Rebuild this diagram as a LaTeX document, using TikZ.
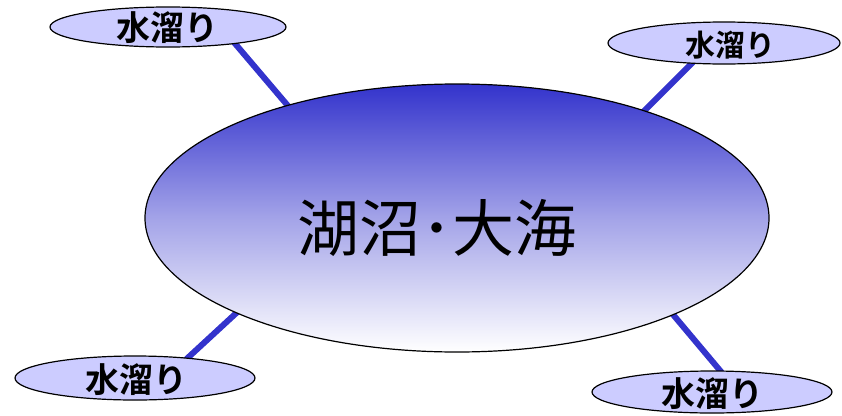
\documentclass[tikz,border=0pt]{standalone}
\usepackage{fontspec}
\newfontfamily\jpb{Noto Sans CJK JP Bold}
\newfontfamily\jp{Noto Sans CJK JP}
\usetikzlibrary{shapes.geometric}
\definecolor{lineblue}{HTML}{3333CC}
\definecolor{pool}{HTML}{CCCCFF}
\tikzset{
  small/.style={draw=black, line width=1.2pt, fill=pool, ellipse, inner sep=0pt},
  link/.style={draw=lineblue, line width=6pt},
  lbl/.style={font=\jpb\fontsize{34}{34}\selectfont, inner sep=0pt}
}
\begin{document}
\begin{tikzpicture}[x=1pt,y=-1pt]
\useasboundingbox (0,0) rectangle (842,415);
% connector end points
\coordinate (a1) at (232,40); \coordinate (a2) at (300,120);
\coordinate (b1) at (700,55); \coordinate (b2) at (630,125);
\coordinate (c1) at (245,305); \coordinate (c2) at (180,365);
\coordinate (d1) at (665,305); \coordinate (d2) at (728,380);
\draw[link] (a1) -- (a2);
\draw[link] (b1) -- (b2);
\draw[link] (c1) -- (c2);
\draw[link] (d1) -- (d2);
% main ellipse
\draw[line width=1.2pt, top color=lineblue, bottom color=white, middle color=lineblue!45!white]
  (457,218) ellipse [x radius=312, y radius=134];
\node[font=\jp\fontsize{62}{62}\selectfont, inner sep=0pt] (main) at (437,228) {湖沼･大海};
% small ellipses
\draw[small] (168,27) ellipse [x radius=118, y radius=20];
\draw[small] (724,43) ellipse [x radius=116, y radius=21];
\draw[small] (135,378) ellipse [x radius=120, y radius=22];
\draw[small] (712,392) ellipse [x radius=120, y radius=21];
\node[lbl] (p1) at (167,28) {水溜り};
\node[lbl, font=\jpb\fontsize{30}{30}\selectfont] (p2) at (730,45) {水溜り};
\node[lbl] (p3) at (136,380) {水溜り};
\node[lbl] (p4) at (712,394) {水溜り};
\end{tikzpicture}
\end{document}
